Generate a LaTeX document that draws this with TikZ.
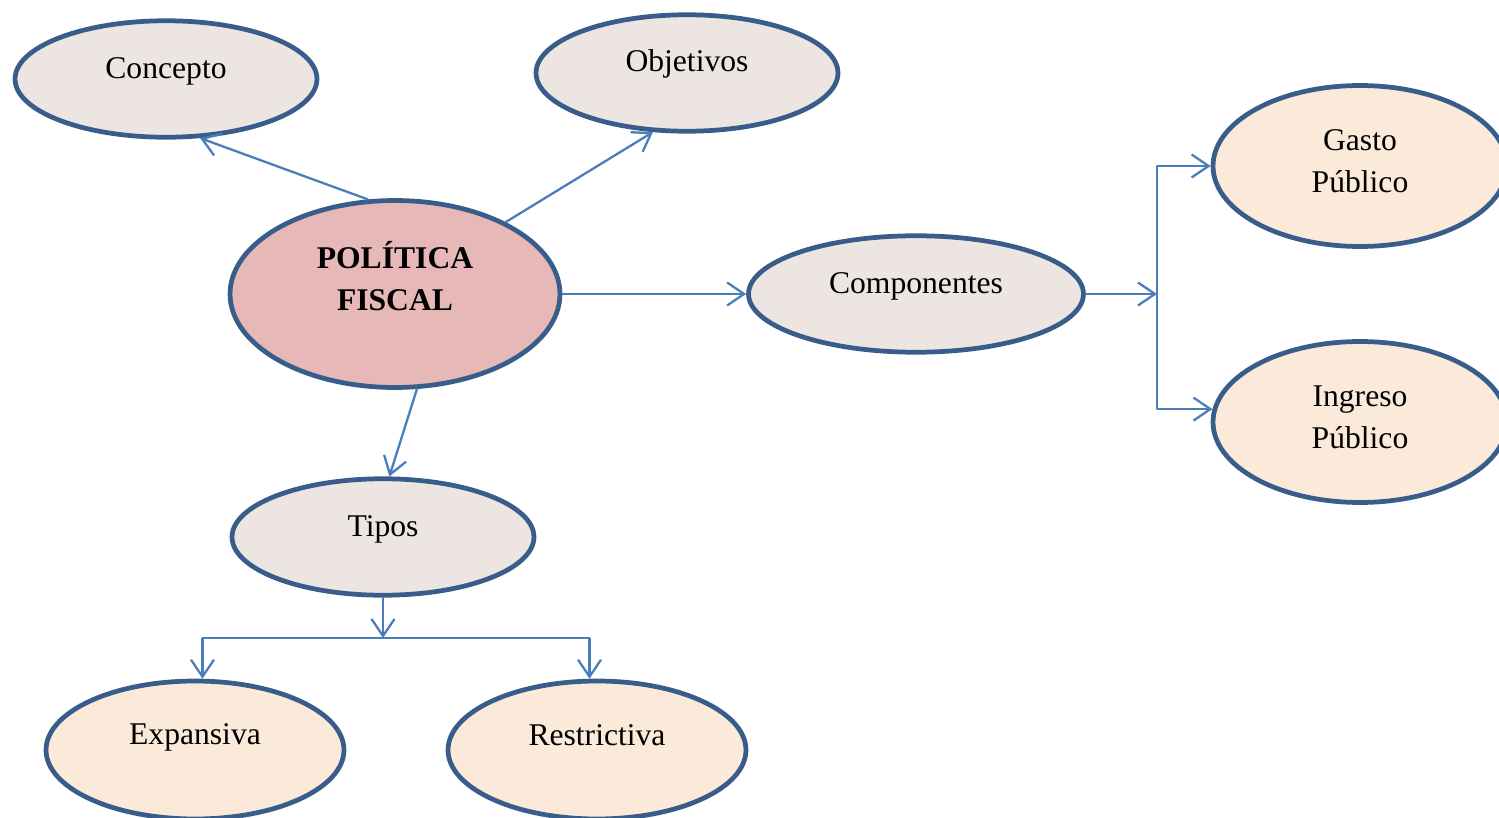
\documentclass[tikz,border=0pt]{standalone}
\usepackage{fontspec}
\setmainfont{Liberation Serif}
\usetikzlibrary{shapes.geometric,arrows.meta}
\definecolor{borde}{HTML}{385D8A}
\definecolor{flecha}{HTML}{4A7EBB}
\definecolor{gris}{HTML}{ECE5E1}
\definecolor{rosa}{HTML}{E6B9B8}
\definecolor{crema}{HTML}{FBEADA}
\begin{document}
\begin{tikzpicture}[x=0.02cm,y=-0.02cm,>={Straight Barb[length=3.4mm,width=4.6mm]},line join=round,line cap=round,font=\fontsize{18}{24}\selectfont,
	elip/.style={ellipse,draw=borde,line width=2.7pt,inner sep=0pt},
	tema/.style={fill=gris,minimum width=6.04cm,minimum height=2.33cm},
	raiz/.style={fill=rosa,minimum width=6.6cm,minimum height=3.74cm},
	hoja/.style={fill=crema,minimum width=5.88cm,minimum height=3.22cm},
	conec/.style={->,draw=flecha,line width=1.3pt}]
			\useasboundingbox (0,0) rectangle (1499,818);
			\node[elip,raiz,label={[yshift=0.36cm,align=center,font=\fontsize{18}{24}\selectfont\bfseries]center:{POLÍTICA\\FISCAL}}] (pf) at (395,294) {};
			\node[elip,tema,label={[yshift=0.16cm]center:Concepto}] (con) at (166,79) {};
			\node[elip,tema,label={[yshift=0.18cm]center:Objetivos}] (obj) at (687,73) {};
			\node[elip,tema,minimum width=6.7cm,label={[yshift=0.15cm]center:Componentes}] (comp) at (916,294) {};
			\node[elip,tema,label={[yshift=0.16cm]center:Tipos}] (tip) at (383,537) {};
			\node[elip,hoja,label={[yshift=0.1cm,align=center]center:{Gasto\\Público}}] (gas) at (1360,166) {};
			\node[elip,hoja,label={[yshift=0.1cm,align=center]center:{Ingreso\\Público}}] (ing) at (1360,422) {};
			\node[elip,hoja,minimum width=5.96cm,minimum height=2.76cm,label={[yshift=0.25cm]center:Expansiva}] (exp) at (195,750) {};
			\node[elip,hoja,minimum width=5.96cm,minimum height=2.76cm,label={[yshift=0.29cm]center:Restrictiva}] (res) at (597,750) {};
			\draw[conec] (pf.106) -- (con.-60);
			\draw[conec] (pf.33) -- (obj.-120);
			\draw[conec] (pf.east) -- (comp.west);
			\draw[conec] (pf.-77) -- (tip.84);
			\coordinate (br) at (1157,294);
			\draw[conec] (comp.east) -- (br);
			\draw[conec] (br) |- (gas.west);
			\draw[conec] (br) |- (ing.175);
			\coordinate (jn) at (tip.south |- 0,638);
			\draw[conec] (tip.south) -- (jn);
			\draw[conec] (jn) -| (exp.84);
			\draw[conec] (jn) -| (res.96);
	\end{tikzpicture}
\end{document}
